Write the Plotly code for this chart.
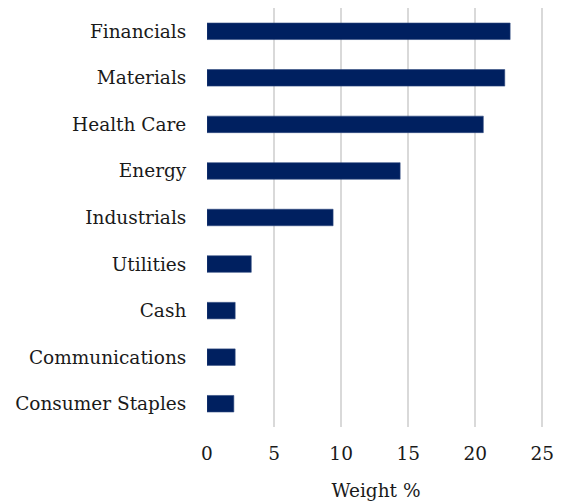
import plotly.graph_objects as go

categories = ["Financials", "Materials", "Health Care", "Energy", "Industrials",
              "Utilities", "Cash", "Communications", "Consumer Staples"]
weights = [22.6, 22.2, 20.6, 14.4, 9.4, 3.3, 2.1, 2.1, 2.0]
x_ticks = [0, 5, 10, 15, 20, 25]

font_family = "DejaVu Serif"
text_color = "#1a1a1a"

fig = go.Figure(go.Bar(
    x=weights, y=categories, orientation="h",
    marker=dict(color="#002060", line=dict(color="#2f4a80", width=0.6)),
))

# page body has an 8px margin, so the figure is sized to fit the window
fig.update_layout(
    width=554, height=495,
    margin=dict(l=199, r=17, t=0, b=76, autoexpand=False),
    paper_bgcolor="white", plot_bgcolor="white",
    bargap=0.645,
    showlegend=False,
    font=dict(family=font_family, size=18.5, color=text_color),
)
fig.update_xaxes(
    range=[0, 25.2], tickvals=x_ticks, ticktext=[str(v) for v in x_ticks],
    showgrid=True, gridcolor="#d9d9d9", gridwidth=1.6,
    zeroline=False, showline=False,
    ticks="outside", ticklen=10, tickcolor="rgba(0,0,0,0)",
    tickfont=dict(size=18.5, family=font_family, color=text_color),
    title=dict(text="Weight %", font=dict(size=18.5, family=font_family, color=text_color), standoff=20),
    automargin=False,
)
fig.update_yaxes(
    autorange="reversed", showgrid=False, zeroline=False, showline=False,
    ticks="outside", ticklen=16, tickcolor="rgba(0,0,0,0)",
    tickfont=dict(size=18.5, family=font_family, color=text_color),
    automargin=False,
)

fig.write_html("out.html")
